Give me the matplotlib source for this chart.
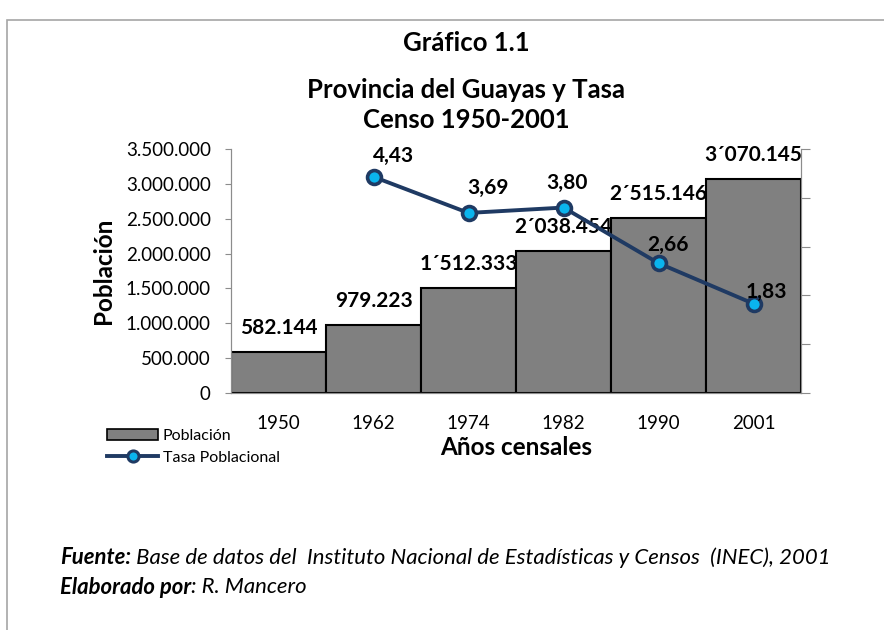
import matplotlib
matplotlib.use("Agg")
import matplotlib.pyplot as plt
from matplotlib.lines import Line2D
from matplotlib.patches import Patch, Rectangle
from matplotlib.ticker import FuncFormatter

plt.rcParams["font.family"] = ["Lato", "DejaVu Sans"]

years = ["1950", "1962", "1974", "1982", "1990", "2001"]
poblacion = [582144, 979223, 1512333, 2038454, 2515146, 3070145]
pob_labels = ["582.144", "979.223", "1´512.333", "2´038.454", "2´515.146", "3´070.145"]
tasa_years = ["1962", "1974", "1982", "1990", "2001"]
tasa = [4.43, 3.69, 3.80, 2.66, 1.83]
tasa_labels = ["4,43", "3,69", "3,80", "2,66", "1,83"]
# label offsets (points) for the rate labels, placed by hand in the original
tasa_offsets = [(14.4, 15), (14.4, 18), (2.2, 18), (6.5, 13), (9.4, 8.6)]

GREY = "#808080"
NAVY = "#1F3A63"
CYAN = "#0AB4EE"
AXC = "#8C8C8C"
W, H = 884, 630


def fx(px):
    return px / W


def fy(py):
    return 1 - py / H


fig = plt.figure(figsize=(8.84, 6.3), dpi=100)
# page frame (only top/left edges visible)
fig.patches.append(Rectangle((fx(7), -0.1), 1.2, fy(20) + 0.1,
                             transform=fig.transFigure, fill=False,
                             edgecolor="#A6A6A6", lw=1.2))

ax = fig.add_axes([fx(231), fy(393), 570 / W, 244 / H])
x = list(range(len(years)))
ax.bar(x, poblacion, width=1.0, color=GREY, edgecolor="black", lw=1.5, zorder=2)
ax.set_xlim(-0.5, len(years) - 0.5)
ax.set_ylim(0, 3500000)
ax.set_yticks(range(0, 3500001, 500000))
ax.yaxis.set_major_formatter(FuncFormatter(lambda v, p: f"{int(v):,}".replace(",", ".")))
ax.set_xticks(x)
ax.set_xticklabels(years)
ax.tick_params(axis="x", length=0, pad=15.5, labelsize=13.5)
ax.tick_params(axis="y", length=4.5, color=AXC, labelsize=13.5, pad=10)
ax.spines["top"].set_visible(False)
for s in ["left", "bottom", "right"]:
    ax.spines[s].set_color(AXC)
for xi, v, lab in zip(x, poblacion, pob_labels):
    ax.annotate(lab, (xi, v), xytext=(0, 17.3), textcoords="offset points",
                ha="center", va="center", fontsize=15, fontweight="bold")
ax.set_ylabel("Población", fontsize=17.5, fontweight="bold", labelpad=8)
ax.set_xlabel("Años censales", fontsize=17.5, fontweight="bold", labelpad=3)

ax2 = ax.twinx()
tx = [years.index(y) for y in tasa_years]
ax2.plot(tx, tasa, color=NAVY, lw=2.8, marker="o", ms=10, mfc=CYAN, mec=NAVY,
         mew=2.6, zorder=3)
ax2.set_ylim(0, 5)
ax2.set_yticks(range(0, 6))
ax2.set_yticklabels([])
ax2.tick_params(axis="y", length=6.5, color=AXC)
ax2.spines["top"].set_visible(False)
for s in ["left", "bottom", "right"]:
    ax2.spines[s].set_color(AXC)
for xi, v, lab, off in zip(tx, tasa, tasa_labels, tasa_offsets):
    ax2.annotate(lab, (xi, v), xytext=off, textcoords="offset points",
                 ha="center", va="center", fontsize=15, fontweight="bold")

handles = [Patch(facecolor=GREY, edgecolor="black", lw=1.2),
           Line2D([], [], color=NAVY, lw=2.8, marker="o", ms=8, mfc=CYAN, mec=NAVY, mew=2.2)]
fig.legend(handles, ["Población", "Tasa Poblacional"], loc="upper left",
           bbox_to_anchor=(fx(107), fy(429)), frameon=False, fontsize=11.5,
           handlelength=3.2, handleheight=0.7, handletextpad=0.3, labelspacing=0.45,
           borderpad=0, borderaxespad=0)

for yy, txt in [(43, "Gráfico 1.1"), (90, "Provincia del Guayas y Tasa"),
                (120, "Censo 1950-2001")]:
    fig.text(fx(466), fy(yy), txt, ha="center", va="center", fontsize=18.5,
             fontweight="bold")

# footer: bold-italic lead-in followed by italic text
fig.canvas.draw()
rend = fig.canvas.get_renderer()
for yy, bold, rest in [(558, "Fuente:", " Base de datos del  Instituto Nacional de Estadísticas y Censos  (INEC), 2001"),
                       (587, "Elaborado por", ": R. Mancero")]:
    t = fig.text(fx(60), fy(yy), bold, fontsize=15.9, va="center",
                 fontweight="bold", style="italic")
    bb = t.get_window_extent(renderer=rend)
    fig.text(bb.x1 / W, fy(yy), rest, fontsize=15.9, va="center", style="italic")

fig.savefig("out.png", dpi=100)
